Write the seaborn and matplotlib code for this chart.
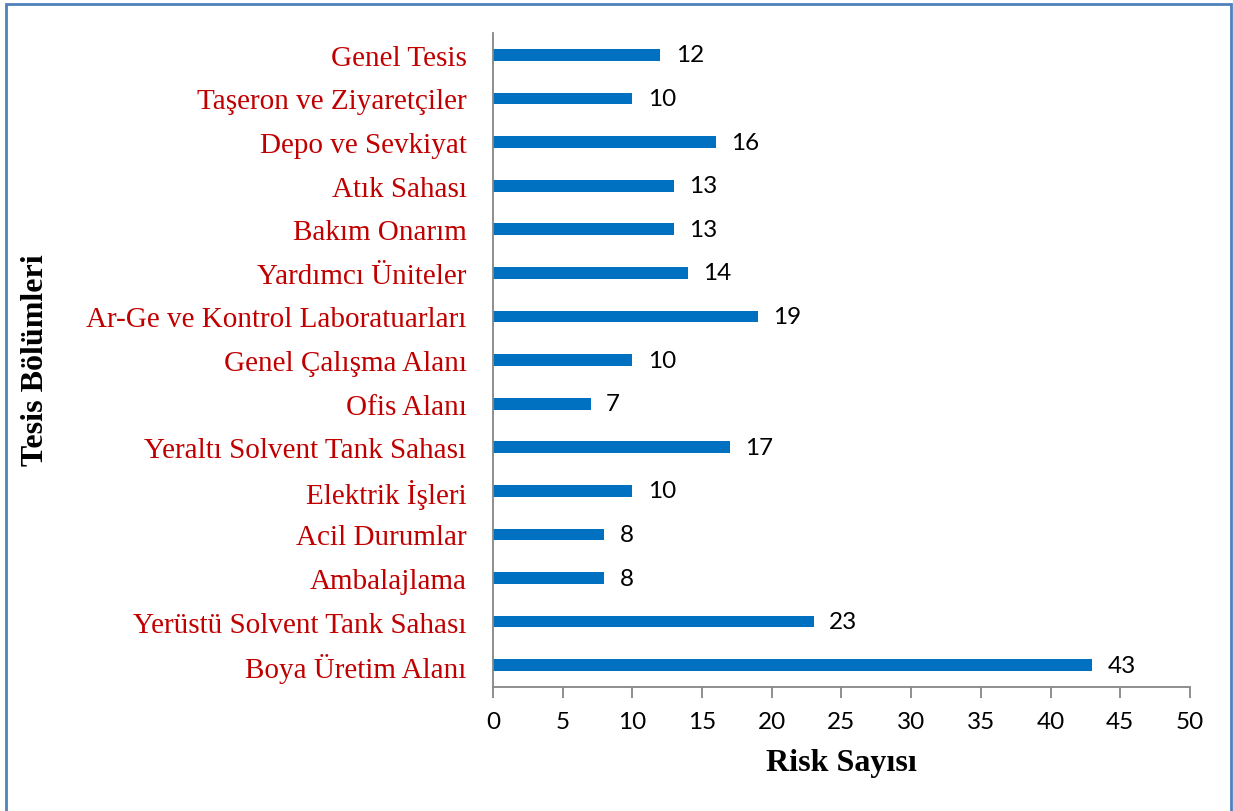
import matplotlib
matplotlib.use("Agg")
import matplotlib.pyplot as plt
import matplotlib.patches as mpatches
import seaborn as sns
import pandas as pd

# Facility sections, listed top to bottom
sections = [
    "Genel Tesis",
    "Taşeron ve Ziyaretçiler",
    "Depo ve Sevkiyat",
    "Atık Sahası",
    "Bakım Onarım",
    "Yardımcı Üniteler",
    "Ar-Ge ve Kontrol Laboratuarları",
    "Genel Çalışma Alanı",
    "Ofis Alanı",
    "Yeraltı Solvent Tank Sahası",
    "Elektrik İşleri",
    "Acil Durumlar",
    "Ambalajlama",
    "Yerüstü Solvent Tank Sahası",
    "Boya Üretim Alanı",
]
risk_counts = [12, 10, 16, 13, 13, 14, 19, 10, 7, 17, 10, 8, 8, 23, 43]
x_ticks = [0, 5, 10, 15, 20, 25, 30, 35, 40, 45, 50]

df = pd.DataFrame({"section": sections, "risks": risk_counts})

sns.set_theme(style="white")
plt.rcParams["font.family"] = ["Liberation Serif", "DejaVu Serif"]
num_font = ["Lato", "DejaVu Sans"]

fig = plt.figure(figsize=(12.33, 8.12), dpi=100)
ax = fig.add_axes([0.3998, 0.1527, 0.5653, 0.8054])

sns.barplot(data=df, x="risks", y="section", order=sections, orient="h",
            color="#0070C0", saturation=1, width=0.27, linewidth=0, ax=ax)

for i, v in enumerate(risk_counts):
    ax.text(v + 1.1, i, str(v), va="center", ha="left", fontsize=17.5,
            family=num_font, color="black")

ax.set_xlim(0, 50)
ax.set_ylim(len(sections) - 0.5, -0.5)
ax.set_xticks(x_ticks)
ax.set_xticklabels([str(t) for t in x_ticks], family=num_font, fontsize=17.5)
ax.tick_params(axis="x", direction="out", length=8, width=1.3, color="#868686",
               pad=9, bottom=True, labelcolor="black")
ax.tick_params(axis="y", length=0, pad=19, labelsize=21, labelcolor="#C00000")

for side in ["top", "right"]:
    ax.spines[side].set_visible(False)
for side in ["left", "bottom"]:
    ax.spines[side].set_color("#868686")
    ax.spines[side].set_linewidth(1.3)

ax.set_xlabel("Risk Sayısı", fontsize=23, fontweight="bold", labelpad=12,
              color="black")
ax.set_ylabel("")
fig.text(0.029, 0.557, "Tesis Bölümleri", rotation=90, fontsize=23,
         fontweight="bold", ha="center", va="center", color="black")

# Frame around the chart area
fig.patches.append(mpatches.Rectangle((0.0045, -0.01), 0.9935, 1.0035,
                                      transform=fig.transFigure, fill=False,
                                      edgecolor="#4F81BD", linewidth=2))

fig.savefig("out.png", dpi=100)
